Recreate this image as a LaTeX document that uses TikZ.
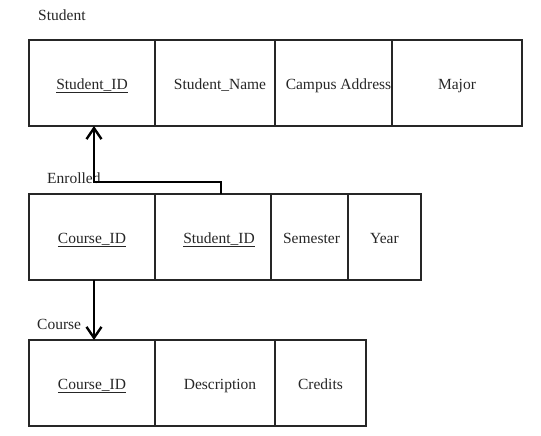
\documentclass[tikz,border=0pt]{standalone}
\usepackage{fontspec}
\setmainfont{Liberation Serif}
\usetikzlibrary{arrows.meta}
\begin{document}
\begin{tikzpicture}[x=1pt,y=-1pt,
  cell/.style={draw=black!85,line width=1.1pt,rectangle,inner sep=0pt,outer sep=0pt,minimum height=86pt,text height=13pt,text depth=1pt,font=\fontsize{15.5}{18}\selectfont,text=black!85},
  title/.style={anchor=west,inner sep=0pt,font=\fontsize{15.5}{18}\selectfont,text=black!85},
  fk/.style={line width=2.6pt,-{Straight Barb[length=11pt,width=15pt,line width=2.4pt]}}]
\useasboundingbox (0,0) rectangle (541,436);
% Student
\node[title] (tS) at (38,15) {Student};
\node[cell,minimum width=126pt] (s1) at (92,83) {\underline{Student\_ID}};
\node[cell,minimum width=120pt] (s2) at (215,83) {\hspace{10pt}Student\_Name};
\node[cell,minimum width=117pt] (s3) at (333.5,83) {\hspace{10pt}Campus Address};
\node[cell,minimum width=130pt] (s4) at (457,83) {Major};
% Enrolled
\node[title] (tE) at (47,178) {Enrolled};
\node[cell,minimum width=126pt] (e1) at (92,237) {\underline{Course\_ID}};
\node[cell,minimum width=116pt] (e2) at (213,237) {\hspace{12pt}\underline{Student\_ID}};
\node[cell,minimum width=77pt] (e3) at (309.5,237) {\hspace{4pt}Semester};
\node[cell,minimum width=73pt] (e4) at (384.5,237) {Year};
% Course
\node[title] (tC) at (37,324) {Course};
\node[cell,minimum width=126pt] (c1) at (92,383) {\underline{Course\_ID}};
\node[cell,minimum width=120pt] (c2) at (215,383) {\hspace{10pt}Description};
\node[cell,minimum width=91pt] (c3) at (320.5,383) {Credits};
% connectors
\coordinate (k1) at (221,182);
\coordinate (k2) at (94,182);
\draw[fk] (e2.north -| k1) -- (k1) -- (k2) -- (s1.south -| k2);
\draw[fk] (e1.south -| k2) -- (c1.north -| k2);
\end{tikzpicture}
\end{document}
